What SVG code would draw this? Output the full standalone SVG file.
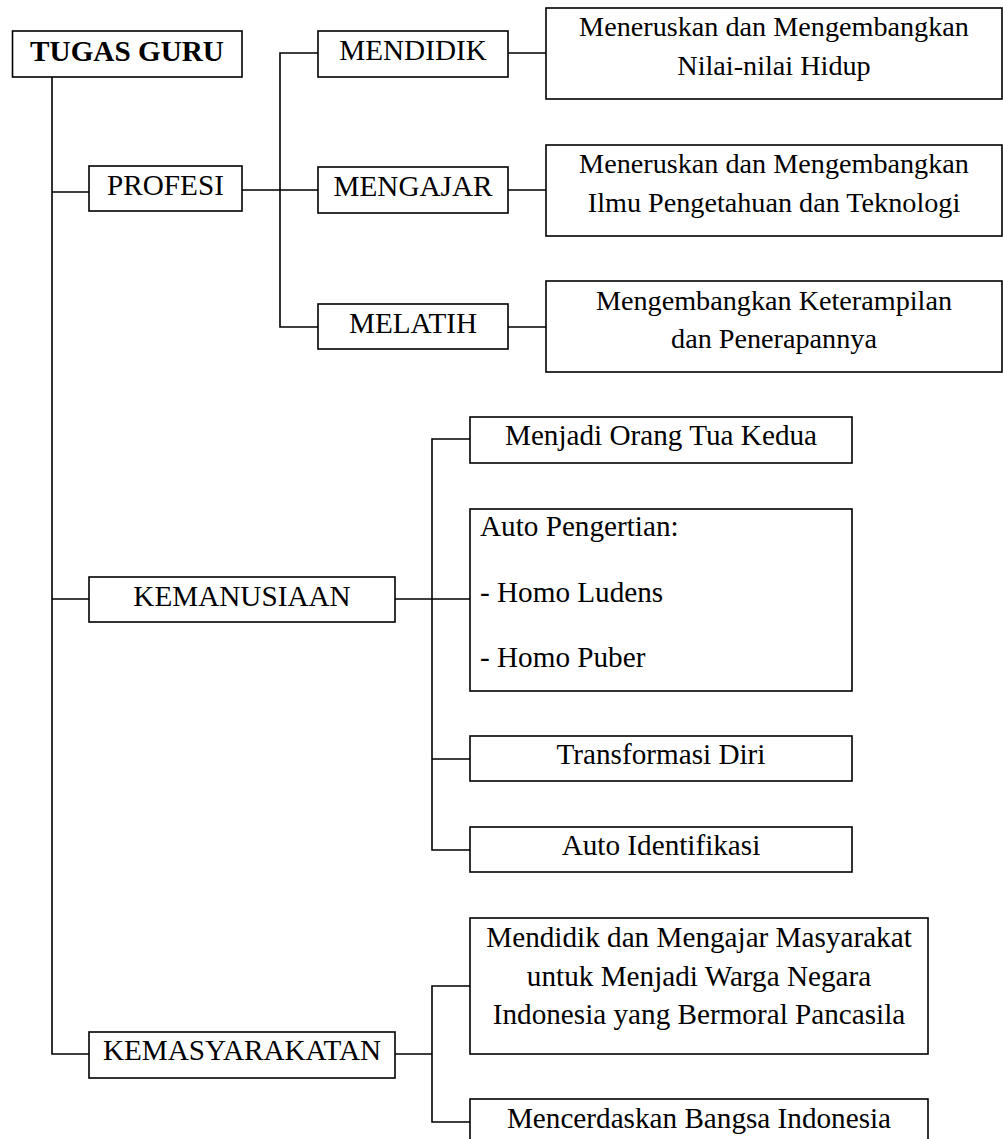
<svg xmlns="http://www.w3.org/2000/svg" width="1003" height="1139" viewBox="0 0 1003 1139">
<style>
.box{fill:#fff;stroke:#000;stroke-width:1.6}
.ln{fill:none;stroke:#000;stroke-width:1.6}
text{font-family:"Liberation Serif","Times New Roman",serif;fill:#000;font-size:29.2px}
.c{text-anchor:middle}
.r{font-size:28.2px}
.b{font-weight:bold}
</style>
<rect width="1003" height="1139" fill="#fff"/>
<g id="connectors">
<path class="ln" d="M52,77 V1054 H89 M52,192 H89 M52,599 H89"/>
<path class="ln" d="M242,190 H318 M318,53 H280 V327 H318"/>
<path class="ln" d="M508,53 H546 M508,190 H546 M508,327 H546"/>
<path class="ln" d="M395,599 H470 M470,439 H432 V850 H470 M432,759 H470"/>
<path class="ln" d="M395,1054 H432 M470,986 H432 V1122 H470"/>
</g>
<g id="tugas-guru"><rect class="box" x="12.5" y="31" width="229.5" height="46"/><text class="c b" x="127" y="61">TUGAS GURU</text></g>
<g id="profesi"><rect class="box" x="89" y="166" width="153" height="45"/><text class="c" x="165.5" y="195">PROFESI</text></g>
<g id="mendidik"><rect class="box" x="318" y="31" width="190" height="46"/><text class="c" x="413" y="60">MENDIDIK</text></g>
<g id="mengajar"><rect class="box" x="318" y="167" width="190" height="46"/><text class="c" x="413" y="196">MENGAJAR</text></g>
<g id="melatih"><rect class="box" x="318" y="304" width="190" height="45"/><text class="c" x="413" y="333">MELATIH</text></g>
<g id="nilai-hidup"><rect class="box" x="546" y="8" width="456" height="91"/><text class="c r" x="774" y="36">Meneruskan dan Mengembangkan</text><text class="c r" x="774" y="75">Nilai-nilai Hidup</text></g>
<g id="iptek"><rect class="box" x="546" y="145" width="456" height="91"/><text class="c r" x="774" y="173">Meneruskan dan Mengembangkan</text><text class="c r" x="774" y="212">Ilmu Pengetahuan dan Teknologi</text></g>
<g id="keterampilan"><rect class="box" x="546" y="281" width="456" height="91"/><text class="c r" x="774" y="310">Mengembangkan Keterampilan</text><text class="c r" x="774" y="348">dan Penerapannya</text></g>
<g id="kemanusiaan"><rect class="box" x="89" y="577" width="306" height="45"/><text class="c" x="242" y="606">KEMANUSIAAN</text></g>
<g id="orang-tua"><rect class="box" x="470" y="417" width="382" height="46"/><text class="c" x="661" y="445">Menjadi Orang Tua Kedua</text></g>
<g id="auto-pengertian"><rect class="box" x="470" y="509" width="382" height="182"/><text x="480" y="536">Auto Pengertian:</text><text x="480" y="602">- Homo Ludens</text><text x="480" y="667">- Homo Puber</text></g>
<g id="transformasi"><rect class="box" x="470" y="736" width="382" height="45"/><text class="c" x="661" y="764">Transformasi Diri</text></g>
<g id="auto-identifikasi"><rect class="box" x="470" y="827" width="382" height="45"/><text class="c" x="661" y="855">Auto Identifikasi</text></g>
<g id="kemasyarakatan"><rect class="box" x="89" y="1032" width="306" height="46"/><text class="c" x="242" y="1060">KEMASYARAKATAN</text></g>
<g id="warga-negara"><rect class="box" x="470" y="918" width="458" height="136"/><text class="c" x="699" y="947">Mendidik dan Mengajar Masyarakat</text><text class="c" x="699" y="986">untuk Menjadi Warga Negara</text><text class="c" x="699" y="1024">Indonesia yang Bermoral Pancasila</text></g>
<g id="mencerdaskan"><rect class="box" x="470" y="1099" width="458" height="50"/><text class="c" x="699" y="1128">Mencerdaskan Bangsa Indonesia</text></g>
</svg>
